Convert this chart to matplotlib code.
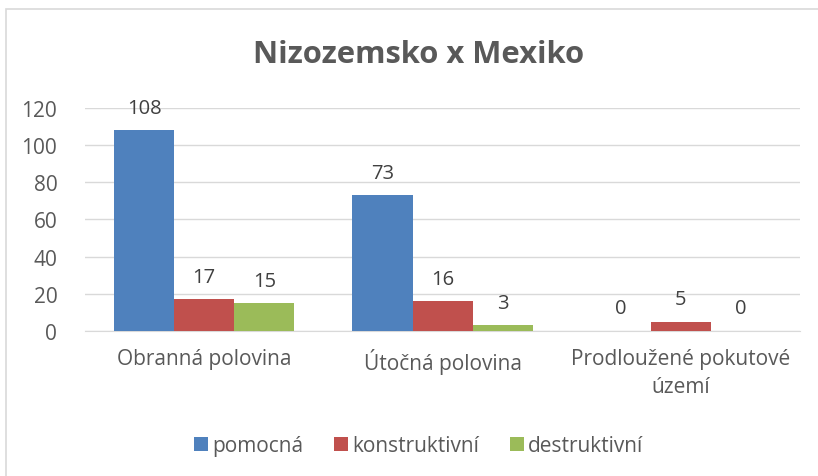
import matplotlib
matplotlib.use("Agg")
import matplotlib.pyplot as plt
import numpy as np
from matplotlib.patches import Rectangle

categories = ["Obranná polovina", "Útočná polovina", "Prodloužené pokutové\núzemí"]
pomocna = [108, 73, 0]
konstruktivni = [17, 16, 5]
destruktivni = [15, 3, 0]
series_names = ["pomocná", "konstruktivní", "destruktivní"]
colors = ["#4F81BD", "#C0504D", "#9BBB59"]

plt.rcParams["font.family"] = ["Open Sans", "DejaVu Sans"]
text_col = "#595959"

fig = plt.figure(figsize=(8.18, 4.77), dpi=100)
ax = fig.add_axes([0.104, 0.304, 0.874, 0.4675])

# chart frame like the office chart border
fig.patches.append(Rectangle((6 / 818, -0.1), 1.2, 1 - 10 / 477 + 0.1,
                             transform=fig.transFigure, fill=False,
                             edgecolor="#D9D9D9", linewidth=1.2))

x = np.arange(len(categories))
w = 0.252
for i, (vals, name, c) in enumerate(zip([pomocna, konstruktivni, destruktivni],
                                        series_names, colors)):
    bars = ax.bar(x + (i - 1) * w, vals, w, color=c, label=name, zorder=3)
    for b, v in zip(bars, vals):
        ax.annotate(str(v), (b.get_x() + b.get_width() / 2, v),
                    xytext=(0, 9), textcoords="offset points",
                    ha="center", va="bottom", fontsize=14.5, color="#404040")

ax.set_xlim(-0.5, 2.5)
ax.set_ylim(0, 120)
ax.set_yticks(range(0, 121, 20))
ax.yaxis.grid(True, color="#D9D9D9", linewidth=1, zorder=0)
for s in ["top", "right", "left"]:
    ax.spines[s].set_visible(False)
ax.spines["bottom"].set_color("#D9D9D9")
ax.tick_params(axis="both", length=0, labelsize=15, labelcolor=text_col)
ax.tick_params(axis="y", pad=20)
ax.tick_params(axis="x", pad=12)
ax.set_xticks(x)
ax.set_xticklabels(categories, linespacing=1.45)

fig.text(0.512, 0.884, "Nizozemsko x Mexiko", ha="center", va="center",
         fontsize=22.3, fontweight="bold", color=text_col)

fig.legend(loc="center", bbox_to_anchor=(0.512, 0.064), ncol=3, frameon=False,
           fontsize=15, labelcolor=text_col, handlelength=0.65, handleheight=0.65,
           handletextpad=0.2, columnspacing=1.5)

fig.savefig("out.png", dpi=100)
